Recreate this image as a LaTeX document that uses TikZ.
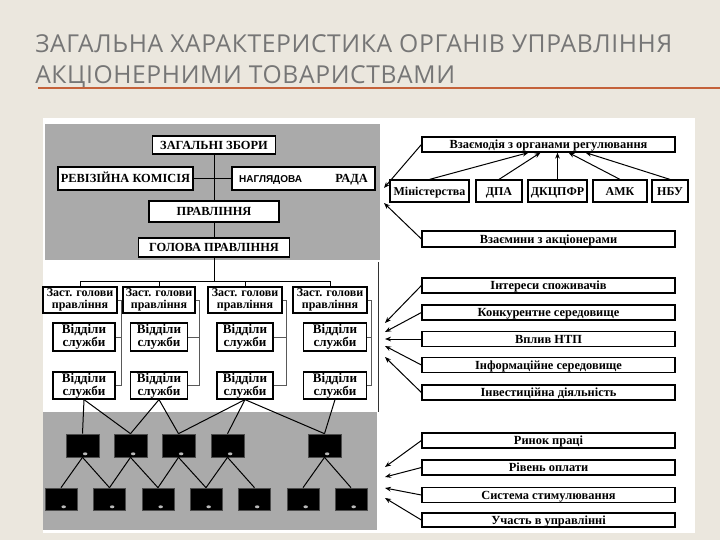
\documentclass[tikz,border=0pt]{standalone}
\usepackage{fontspec}
\setmainfont{Liberation Serif}
\newfontfamily\titlefont[LetterSpace=2.5]{Open Sans}
\newfontfamily\naglfont{Liberation Sans}
\usetikzlibrary{calc,arrows.meta}
\definecolor{slidebg}{RGB}{235,231,222}
\definecolor{titlegray}{RGB}{118,118,118}
\definecolor{ruleorange}{RGB}{196,98,58}
\definecolor{panelgray}{RGB}{170,170,170}

\begin{document}
\begin{tikzpicture}[x=0.75pt,y=-0.75pt,
    wh/.style 2 args={minimum width=#1*0.75pt, minimum height=#2*0.75pt},
    orgbox/.style={rectangle, draw=black, line width=0.9pt, fill=white, inner sep=0pt,
        align=center, font=\bfseries\fontsize{9.3}{9.5}\selectfont},
    capbox/.style={orgbox, text height=0.66em, text depth=0.05em},
    unitbox/.style={orgbox, font=\bfseries\fontsize{9}{9.2}\selectfont},
    depbox/.style={orgbox, font=\bfseries\fontsize{9.8}{9.8}\selectfont},
    regbox/.style={capbox, font=\bfseries\fontsize{9}{10}\selectfont},
    envbox/.style={capbox, wh={253}{15}, font=\bfseries\fontsize{9.3}{10}\selectfont},
    blk/.style={rectangle, fill=black, draw=gray!60!black, line width=0.5pt, inner sep=0pt,
        path picture={\fill[gray!55] ([xshift=2pt,yshift=2.4pt]path picture bounding box.south)
            ellipse [x radius=1.7pt, y radius=1.1pt];}},
    brk/.style={draw=gray!70!black, line width=0.5pt},
    link/.style={draw=black, line width=0.75pt},
    arr/.style={-{Stealth[length=4.5pt,width=3.5pt]}, line width=0.75pt}]

    % slide
    \useasboundingbox (0,0) rectangle (720,540);
    \fill[slidebg] (0,0) rectangle (720,540);
    \node[anchor=base west, inner sep=0pt, text=titlegray, font=\titlefont\fontsize{18.5}{19}\selectfont]
        (title1) at (35,52) {ЗАГАЛЬНА ХАРАКТЕРИСТИКА ОРГАНІВ УПРАВЛІННЯ};
    \node[anchor=base west, inner sep=0pt, text=titlegray, font=\titlefont\fontsize{18.5}{19}\selectfont]
        (title2) at (35,83) {АКЦІОНЕРНИМИ ТОВАРИСТВАМИ};
    \draw[ruleorange, line width=1.5pt] (38,88) -- (720,88);

    % picture frame and panels
    \fill[white] (43,118) rectangle (695,533);
    \fill[panelgray] (45,124) rectangle (380,260);
    \fill[panelgray] (43,412) rectangle (377,530);
    \draw[gray!40!black, line width=0.6pt] (378,262) -- (378,412);

    % top of the structure
    \node[capbox, wh={123}{18}] (zbory) at (214,145) {ЗАГАЛЬНІ ЗБОРИ};
    \node[capbox, wh={135}{23}] (revkom) at (125.5,178.5) {РЕВІЗІЙНА КОМІСІЯ};
    \node[capbox, wh={143}{23}] (nagl) at (303.5,178.5)
        {{\naglfont\fontsize{7.5}{8}\selectfont НАГЛЯДОВА}\hspace{25pt}РАДА};
    \node[capbox, wh={130}{21}] (pravl) at (214,211.5) {ПРАВЛІННЯ};
    \node[capbox, wh={151}{19}] (holova) at (214,247.5) {ГОЛОВА ПРАВЛІННЯ};
    \coordinate (bus) at (214,281);

    \draw[link] (zbory) -- (pravl);
    \draw[link] (revkom) -- (nagl);
    \draw[link] (pravl) -- (holova);
    \draw[link] (holova) -- (bus);

    % deputies and departments
    \node[unitbox, wh={74}{26}] (zast1) at (80,300) {Заст. голови\\правління};
    \node[unitbox, wh={72}{26}] (zast2) at (159,300) {Заст. голови\\правління};
    \node[unitbox, wh={74}{26}] (zast3) at (245,300) {Заст. голови\\правління};
    \node[unitbox, wh={74}{26}] (zast4) at (330,300) {Заст. голови\\правління};

    \node[depbox, wh={62}{28}] (vid1) at (84,337) {Відділи\\служби};
    \node[depbox, wh={57}{28}] (vid2) at (159,337) {Відділи\\служби};
    \node[depbox, wh={56}{28}] (vid3) at (245,337) {Відділи\\служби};
    \node[depbox, wh={63}{28}] (vid4) at (335,337) {Відділи\\служби};
    \node[depbox, wh={62}{27}] (vidb1) at (84,385.5) {Відділи\\служби};
    \node[depbox, wh={57}{27}] (vidb2) at (159,385.5) {Відділи\\служби};
    \node[depbox, wh={56}{27}] (vidb3) at (245,385.5) {Відділи\\служби};
    \node[depbox, wh={63}{27}] (vidb4) at (335,385.5) {Відділи\\служби};

    \draw[link] (zast1.north) -- (zast1.north |- bus) -- (zast4.north |- bus) -- (zast4.north);
    \draw[link] (zast2.north) -- (zast2.north |- bus);
    \draw[link] (zast3.north) -- (zast3.north |- bus);

    \draw[brk] (zast1.east) -- ++(4,0) coordinate (b1) |- (vidb1.east);
    \draw[brk] (vid1.east) -- (vid1.east -| b1);
    \draw[brk] (zast2.east) -- ++(4,0) coordinate (b2) |- (vidb2.east);
    \draw[brk] (vid2.east) -- (vid2.east -| b2);
    \draw[brk] (zast3.east) -- ++(4,0) coordinate (b3) |- (vidb3.east);
    \draw[brk] (vid3.east) -- (vid3.east -| b3);
    \draw[brk] (zast4.east) -- ++(4,0) coordinate (b4) |- (vidb4.east);
    \draw[brk] (vid4.east) -- (vid4.east -| b4);

    % lower units
    \node[blk, wh={33}{23}] (ua1) at (82.5,445.5) {};
    \node[blk, wh={33}{23}] (ua2) at (130.5,445.5) {};
    \node[blk, wh={33}{23}] (ua3) at (178.5,445.5) {};
    \node[blk, wh={33}{23}] (ua4) at (227.5,445.5) {};
    \node[blk, wh={33}{23}] (ua5) at (324.5,445.5) {};

    \node[blk, wh={32}{22}] (ub1) at (61,499) {};
    \node[blk, wh={32}{22}] (ub2) at (109.5,499) {};
    \node[blk, wh={32}{22}] (ub3) at (158,499) {};
    \node[blk, wh={32}{22}] (ub4) at (206,499) {};
    \node[blk, wh={32}{22}] (ub5) at (254.5,499) {};
    \node[blk, wh={32}{22}] (ub6) at (303,499) {};
    \node[blk, wh={32}{22}] (ub7) at (351,499) {};

    \draw[link] (vidb1.south) -- (ua1.north);
    \draw[link] (vidb1.south) -- (ua2.north);
    \draw[link] (vidb2.south) -- (ua2.north);
    \draw[link] (vidb2.south) -- (ua3.north);
    \draw[link] (vidb3.south) -- (ua3.north);
    \draw[link] (vidb3.south) -- (ua4.north);
    \draw[link] (vidb3.south) -- (ua5.north);
    \draw[link] (vidb4.south) -- (ua5.north);

    \draw[link] (ua1.south) -- (ub1.north);
    \draw[link] (ua1.south) -- (ub2.north);
    \draw[link] (ua2.south) -- (ub2.north);
    \draw[link] (ua2.south) -- (ub3.north);
    \draw[link] (ua3.south) -- (ub3.north);
    \draw[link] (ua3.south) -- (ub4.north);
    \draw[link] (ua4.south) -- (ub4.north);
    \draw[link] (ua4.south) -- (ub5.north);
    \draw[link] (ua5.south) -- (ub6.north);
    \draw[link] (ua5.south) -- (ub7.north);

    % regulators
    \node[envbox] (vzaem) at (548.5,144.5) {Взаємодія з органами регулювання};
    \node[regbox, wh={79}{22}] (mins) at (429.5,191) {Міністерства};
    \node[regbox, wh={46}{22}] (dpa) at (499,191) {ДПА};
    \node[regbox, wh={59}{22}] (dkc) at (557.5,191) {ДКЦПФР};
    \node[regbox, wh={54}{22}] (amk) at (620,191) {АМК};
    \node[regbox, wh={36}{22}] (nbu) at (670,191) {НБУ};
    \node[envbox, wh={253}{16}] (akc) at (548.5,239) {Взаємини з акціонерами};

    \draw[arr] (mins.north) -- ($(vzaem.south)+(-20,0)$);
    \draw[arr] (dpa.north) -- ($(vzaem.south)+(-8,0)$);
    \draw[arr] (dkc.north) -- ($(vzaem.south)+(9,0)$);
    \draw[arr] (amk.north) -- ($(vzaem.south)+(20,0)$);
    \draw[arr] (nbu.north) -- ($(vzaem.south)+(37,0)$);

    \coordinate (t1) at (384,188);
    \coordinate (t2) at (384,203);
    \draw[arr] (vzaem.west) -- (t1);
    \draw[arr] (akc.west) -- (t2);

    % environment
    \node[envbox] (spoz) at (548.5,285.5) {Інтереси споживачів};
    \node[envbox] (konk) at (548.5,312.5) {Конкурентне середовище};
    \node[envbox] (ntp) at (548.5,339) {Вплив НТП};
    \node[envbox] (inform) at (548.5,365) {Інформаційне середовище};
    \node[envbox] (invest) at (548.5,392.5) {Інвестиційна діяльність};

    \coordinate (t3) at (385,323);
    \coordinate (t4) at (385,332);
    \coordinate (t5) at (385,339);
    \coordinate (t6) at (385,346);
    \coordinate (t7) at (385,357);
    \draw[arr] (spoz.west) -- (t3);
    \draw[arr] (konk.west) -- (t4);
    \draw[arr] (ntp.west) -- (t5);
    \draw[arr] (inform.west) -- (t6);
    \draw[arr] (invest.west) -- (t7);

    % staff
    \node[envbox] (rynok) at (548.5,440.5) {Ринок праці};
    \node[envbox] (oplata) at (548.5,467.5) {Рівень оплати};
    \node[envbox] (stym) at (548.5,495) {Система стимулювання};
    \node[envbox, wh={253}{14}] (uchast) at (548.5,520) {Участь в управлінні};

    \coordinate (t8) at (385,467);
    \coordinate (t9) at (385,477);
    \coordinate (t10) at (385,488);
    \coordinate (t11) at (385,498);
    \draw[arr] (rynok.west) -- (t8);
    \draw[arr] (oplata.west) -- (t9);
    \draw[arr] (stym.west) -- (t10);
    \draw[arr] (uchast.west) -- (t11);
\end{tikzpicture}
\end{document}
